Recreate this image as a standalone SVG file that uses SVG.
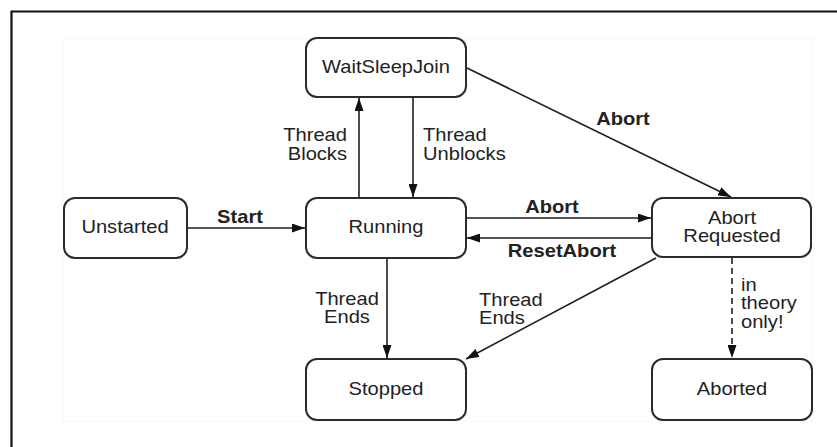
<svg xmlns="http://www.w3.org/2000/svg" width="837" height="447" viewBox="0 0 837 447">
  <style>
    .node rect { fill: #ffffff; stroke: #2b2b2b; stroke-width: 2; }
    .lbl { font-family: "Liberation Sans", Arial, sans-serif; font-size: 17.5px; fill: #222222; }
    .b { font-weight: bold; }
    .edge { fill: none; stroke: #1e1e1e; stroke-width: 1.6; }
    .dash { stroke-dasharray: 6 4; }
  </style>
  <defs>
    <marker id="arrow" viewBox="0 0 13 9" refX="13" refY="4.5" markerWidth="13" markerHeight="9" markerUnits="userSpaceOnUse" orient="auto">
      <path d="M0,0 L13,4.5 L0,9 Z" fill="#111111"/>
    </marker>
  </defs>

  <rect width="837" height="447" fill="#ffffff"/>
  <!-- frame -->
  <path d="M11.5,447 V11.5 H837" fill="none" stroke="#111111" stroke-width="2.2"/>
  <rect x="63" y="39" width="750" height="382" fill="none" stroke="#f8f8f8" stroke-width="1"/>

  <!-- connectors -->
  <g id="connectors">
    <path class="edge" d="M187,228 H305" marker-end="url(#arrow)"/>
    <path class="edge" d="M359,198 V98" marker-end="url(#arrow)"/>
    <path class="edge" d="M413,97 V197" marker-end="url(#arrow)"/>
    <path class="edge" d="M467,68 L731,197" marker-end="url(#arrow)"/>
    <path class="edge" d="M466,218 H651" marker-end="url(#arrow)"/>
    <path class="edge" d="M652,238 H467" marker-end="url(#arrow)"/>
    <path class="edge" d="M387,258 V358" marker-end="url(#arrow)"/>
    <path class="edge" d="M656,258 L466,359" marker-end="url(#arrow)"/>
    <path class="edge dash" d="M732,258 V358" marker-end="url(#arrow)"/>

    <text class="lbl b" text-anchor="middle" transform="translate(240,223) scale(1.15,1)">Start</text>
    <text class="lbl" text-anchor="end" transform="translate(347,141) scale(1.15,1)"><tspan x="0">Thread</tspan><tspan x="0" dy="19">Blocks</tspan></text>
    <text class="lbl" text-anchor="start" transform="translate(423,141) scale(1.15,1)"><tspan x="0">Thread</tspan><tspan x="0" dy="19">Unblocks</tspan></text>
    <text class="lbl b" text-anchor="middle" transform="translate(623,125) scale(1.15,1)">Abort</text>
    <text class="lbl b" text-anchor="middle" transform="translate(552,213) scale(1.15,1)">Abort</text>
    <text class="lbl b" text-anchor="middle" transform="translate(562,257) scale(1.15,1)">ResetAbort</text>
    <text class="lbl" text-anchor="middle" transform="translate(347,305) scale(1.15,1)"><tspan x="0">Thread</tspan><tspan x="0" dy="18.5">Ends</tspan></text>
    <text class="lbl" text-anchor="start" transform="translate(479,306) scale(1.15,1)"><tspan x="0">Thread</tspan><tspan x="0" dy="18.5">Ends</tspan></text>
    <text class="lbl" text-anchor="start" transform="translate(741,291) scale(1.15,1)"><tspan x="0">in</tspan><tspan x="0" dy="18.5">theory</tspan><tspan x="0" dy="18.5">only!</tspan></text>
  </g>

  <!-- states -->
  <g id="waitsleepjoin" class="node">
    <rect x="306" y="38" width="160" height="59" rx="11"/>
    <text class="lbl" text-anchor="middle" transform="translate(386,73) scale(1.15,1)">WaitSleepJoin</text>
  </g>
  <g id="unstarted" class="node">
    <rect x="64" y="198" width="123" height="60" rx="11"/>
    <text class="lbl" text-anchor="middle" transform="translate(125,233) scale(1.15,1)">Unstarted</text>
  </g>
  <g id="running" class="node">
    <rect x="306" y="198" width="160" height="60" rx="11"/>
    <text class="lbl" text-anchor="middle" transform="translate(386,233) scale(1.15,1)">Running</text>
  </g>
  <g id="abortrequested" class="node">
    <rect x="652" y="198" width="159" height="59" rx="11"/>
    <text class="lbl" text-anchor="middle" transform="translate(732,224) scale(1.15,1)"><tspan x="0">Abort</tspan><tspan x="0" dy="18">Requested</tspan></text>
  </g>
  <g id="stopped" class="node">
    <rect x="306" y="359" width="160" height="61" rx="11"/>
    <text class="lbl" text-anchor="middle" transform="translate(386,395) scale(1.15,1)">Stopped</text>
  </g>
  <g id="aborted" class="node">
    <rect x="652" y="359" width="160" height="61" rx="11"/>
    <text class="lbl" text-anchor="middle" transform="translate(732,395) scale(1.15,1)">Aborted</text>
  </g>
</svg>
